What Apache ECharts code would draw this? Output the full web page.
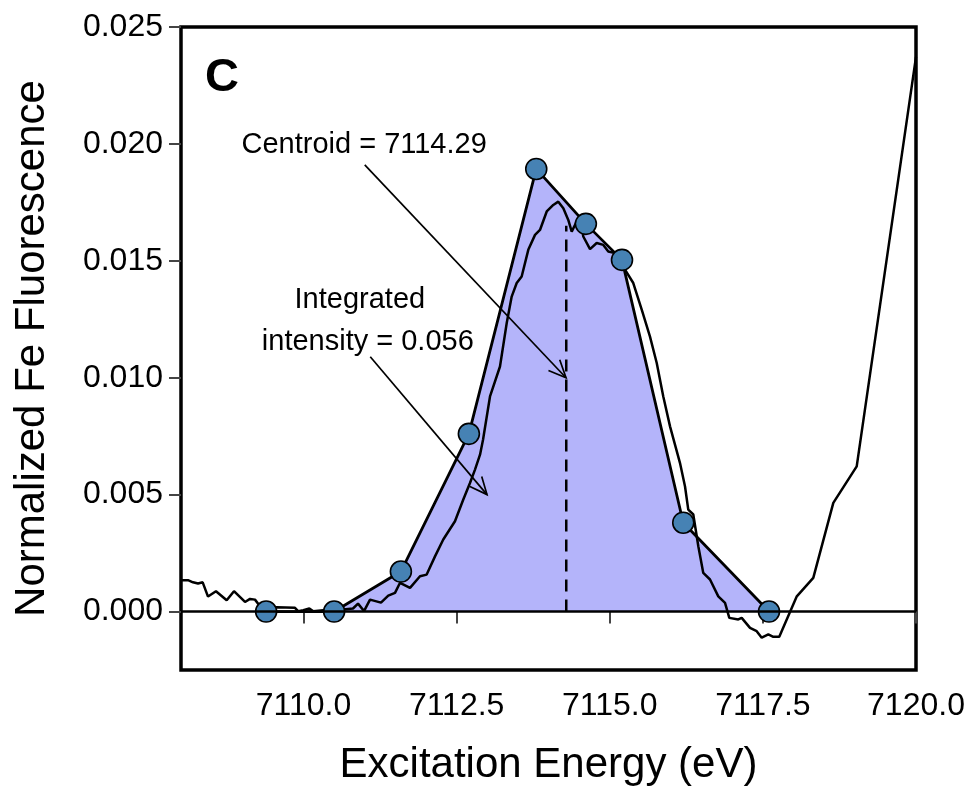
<!DOCTYPE html>
<html><head><meta charset="utf-8">
<script src="https://cdn.jsdelivr.net/npm/echarts@6/dist/echarts.min.js"></script>
<style>html,body{margin:0;padding:0;background:#fff}#c{width:970px;height:789px}</style>
</head><body><div id="c"></div>
<script>
// Measured spectrum (Excitation energy, eV / normalized fluorescence)
const spectrumX = [7108.016,7108.114,7108.196,7108.278,7108.354,7108.441,7108.571,7108.746,7108.865,7109.045,7109.127,7109.208,7109.278,7109.399,7109.562,7109.861,7109.915,7109.997,7110.095,7110.160,7110.323,7110.487,7110.650,7110.808,7110.890,7110.988,7111.086,7111.265,7111.384,7111.494,7111.576,7111.739,7111.902,7112.011,7112.147,7112.282,7112.473,7112.609,7112.718,7112.800,7112.882,7112.931,7113.045,7113.208,7113.318,7113.399,7113.481,7113.562,7113.670,7113.780,7113.861,7113.971,7114.078,7114.160,7114.242,7114.323,7114.379,7114.460,7114.542,7114.568,7114.678,7114.787,7114.895,7114.976,7115.086,7115.249,7115.384,7115.522,7115.657,7115.767,7115.874,7115.984,7116.147,7116.229,7116.282,7116.364,7116.446,7116.527,7116.637,7116.772,7116.882,7116.952,7117.099,7117.154,7117.290,7117.399,7117.481,7117.589,7117.670,7117.768,7118.054,7118.323,7118.650,7119.032,7120.000];
const spectrumY = [0.00134,0.00134,0.00125,0.00120,0.00125,0.00064,0.00087,0.00048,0.00087,0.00041,0.00054,0.00051,0.00027,0.00013,0.00018,0.00016,0.00001,0.00006,0.00013,0.00001,0.00006,0.00004,0.00009,0.00013,0.00034,0.00002,0.00051,0.00038,0.00068,0.00080,0.00123,0.00101,0.00151,0.00158,0.00236,0.00308,0.00386,0.00479,0.00550,0.00607,0.00671,0.00735,0.00920,0.01048,0.01234,0.01347,0.01405,0.01433,0.01547,0.01611,0.01632,0.01711,0.01739,0.01753,0.01725,0.01675,0.01625,0.01668,0.01647,0.01604,0.01550,0.01576,0.01568,0.01540,0.01533,0.01462,0.01405,0.01291,0.01176,0.01063,0.00920,0.00792,0.00635,0.00535,0.00436,0.00415,0.00279,0.00165,0.00137,0.00065,0.00037,-0.00027,-0.00034,-0.00027,-0.00070,-0.00084,-0.00112,-0.00098,-0.00108,-0.00108,0.00065,0.00144,0.00465,0.00621,0.02372];
// Fitted pre-edge peak points
const peakX = [7109.39,7110.50,7111.59,7112.70,7113.80,7114.61,7115.20,7116.20,7117.60];
const peakY = [0,0,0.00171,0.0076,0.01893,0.01658,0.01504,0.0038,0];
// Axis ticks
const xTicks = [7110,7112.5,7115,7117.5,7120];
const yTicks = [0,0.005,0.010,0.015,0.020,0.025];
// Centroid
const centroidX = 7114.29;
const centroidTop = 0.0165;
// Annotations
const noteTexts = ['Centroid = 7114.29','Integrated','intensity = 0.056'];
const noteX = [7110.99,7110.92,7111.05];
const noteY = [0.01996,0.01333,0.01154];
const arrowFromX = [7111.00,7111.09];
const arrowFromY = [0.01910,0.01090];
const arrowToX = [7114.286,7112.996];
const arrowToY = [0.0100,0.0050];
const panelLabel = 'C';
const panelX = 7108.67, panelY = 0.02282;

const FONT = "'Liberation Sans', Arial, Helvetica, sans-serif";
const zip = (a,b)=>a.map((v,i)=>[v,b[i]]);

const chart = echarts.init(document.getElementById('c'));
chart.setOption({
  animation:false,
  backgroundColor:'#fff',
  grid:{left:181,right:54,top:27,bottom:119,containLabel:false,outerBoundsMode:'none',
        show:true,borderColor:'#000',borderWidth:3.5,backgroundColor:'transparent'},
  xAxis:{type:'value',min:7108,max:7120,
    name:'Excitation Energy (eV)',nameLocation:'middle',nameGap:74,
    nameTextStyle:{fontSize:42,color:'#000',fontFamily:FONT},
    axisLine:{show:false},splitLine:{show:false},
    axisTick:{show:true,length:12,lineStyle:{color:'#444',width:2},customValues:xTicks},
    axisLabel:{customValues:xTicks,margin:20,fontSize:32,color:'#000',fontFamily:FONT,formatter:v=>Number(v).toFixed(1)}
  },
  yAxis:{type:'value',min:-0.0025,max:0.025,
    name:'Normalized Fe Fluorescence',nameLocation:'middle',nameGap:128,
    nameTextStyle:{fontSize:42,color:'#000',fontFamily:FONT},
    axisLine:{show:false},splitLine:{show:false},
    axisTick:{show:true,length:12,lineStyle:{color:'#444',width:2},customValues:yTicks},
    axisLabel:{customValues:yTicks,margin:18,fontSize:32,color:'#000',fontFamily:FONT,formatter:v=>Number(v).toFixed(3)}
  },
  series:[
    {type:'line',data:zip(peakX,peakY),symbol:'none',lineStyle:{width:0},
     areaStyle:{color:'#b4b4fa',opacity:1},z:1,silent:true,
     markLine:{silent:true,symbol:'none',label:{show:false},lineStyle:{color:'#000',width:2.5,type:'solid'},data:[{yAxis:0}]}},
    {type:'line',data:[[centroidX,0],[centroidX,centroidTop]],symbol:'none',
     lineStyle:{color:'#000',width:2.5,type:[12,8]},z:2},
    {type:'line',data:zip(spectrumX,spectrumY),symbol:'none',lineStyle:{color:'#000',width:2.5},z:3},
    {type:'line',data:zip(peakX,peakY),symbol:'circle',symbolSize:21,
     itemStyle:{color:'#4682b4',borderColor:'#000',borderWidth:1.6,opacity:1},
     lineStyle:{color:'#000',width:2.8},z:4},
    {type:'custom',z:5,silent:true,
     data:arrowFromX.map((v,i)=>[v,arrowFromY[i],arrowToX[i],arrowToY[i]]),
     encode:{x:[0,2],y:[1,3]},
     renderItem:(params,api)=>{
       const s=api.coord([api.value(0),api.value(1)]);
       const e=api.coord([api.value(2),api.value(3)]);
       const ang=Math.atan2(e[1]-s[1],e[0]-s[0]);
       const L=19,a=0.42;
       const p1=[e[0]-L*Math.cos(ang-a),e[1]-L*Math.sin(ang-a)];
       const p2=[e[0]-L*Math.cos(ang+a),e[1]-L*Math.sin(ang+a)];
       return {type:'group',children:[
         {type:'line',shape:{x1:s[0],y1:s[1],x2:e[0],y2:e[1]},style:{stroke:'#000',lineWidth:1.7}},
         {type:'polyline',shape:{points:[p1,e,p2]},style:{stroke:'#000',lineWidth:1.7,fill:null}}
       ]};
     }},
    {type:'custom',z:6,silent:true,
     data:noteX.map((v,i)=>[v,noteY[i]]),
     renderItem:(params,api)=>{
       const p=api.coord([api.value(0),api.value(1)]);
       return {type:'text',style:{text:noteTexts[params.dataIndex],x:p[0],y:p[1],align:'center',verticalAlign:'middle',fontSize:29,fontFamily:FONT,fill:'#000'}};
     }},
    {type:'custom',z:6,silent:true,
     data:[[panelX,panelY]],
     renderItem:(params,api)=>{
       const p=api.coord([api.value(0),api.value(1)]);
       return {type:'text',style:{text:panelLabel,x:p[0],y:p[1],align:'center',verticalAlign:'middle',fontSize:47,fontWeight:'bold',fontFamily:FONT,fill:'#000'}};
     }}
  ]
});
</script></body></html>
